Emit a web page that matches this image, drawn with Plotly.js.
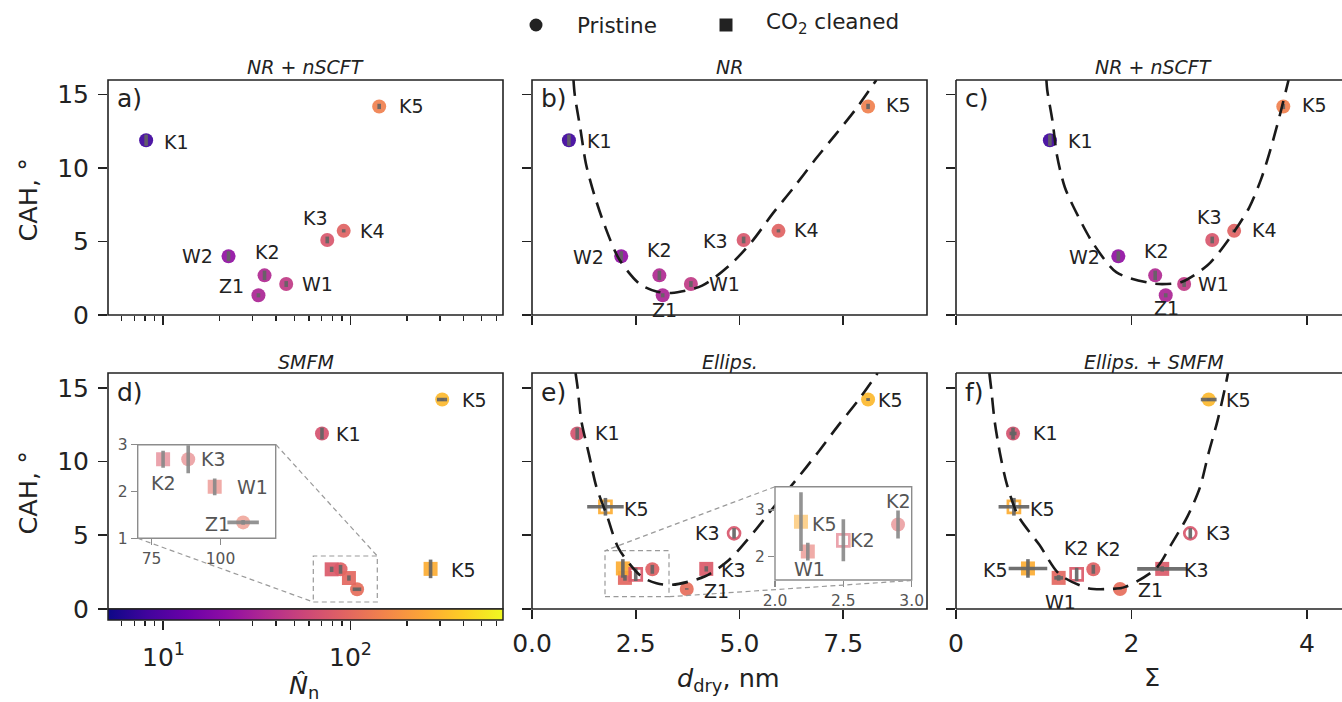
<!DOCTYPE html>
<html><head><meta charset="utf-8">
<script src="https://cdn.plot.ly/plotly-3.0.1.min.js"></script>
<style>html,body{margin:0;padding:0;background:#fff}</style>
</head><body><div id="chart" style="width:1342px;height:702px"></div>
<script>
// ================= DATA =================
// Top row: a) NR + nSCFT (N̂n), b) NR (d_dry), c) NR + nSCFT (Σ) – pristine samples
const topNames  = ['K1','W2','K2','Z1','W1','K3','K4','K5'];
const topNn     = [8.1, 22.3, 34.7, 32.2, 45.3, 75.0, 91.8, 142];
const topDdry   = [0.89, 2.15, 3.07, 3.15, 3.83, 5.10, 5.94, 8.10];
const topSigma  = [1.07, 1.85, 2.27, 2.39, 2.60, 2.92, 3.17, 3.73];
const topCAH    = [11.9, 4.0, 2.7, 1.34, 2.11, 5.11, 5.73, 14.2];
const topCAHErr = [0.38, 0.34, 0.32, 0.14, 0.2, 0.23, 0.11, 0.18];

// Dashed guide curves
const curveB_d    = [1.0, 1.03, 1.17, 1.3, 1.5, 1.75, 2.1, 2.6, 3.0, 3.36, 4.1, 4.77, 5.3, 5.8, 6.3, 6.83, 7.32, 7.8, 8.3];
const curveB_cah  = [16.0, 15.0, 12.6, 10.3, 8.2, 6.1, 3.8, 2.1, 1.6, 1.5, 2.0, 3.4, 5.0, 6.9, 8.65, 10.6, 12.3, 14.0, 16.0];
const curveC_s    = [1.03, 1.04, 1.1, 1.15, 1.24, 1.39, 1.56, 1.83, 2.19, 2.35, 2.57, 2.87, 3.12, 3.34, 3.48, 3.59, 3.69, 3.79];
const curveC_cah  = [16.0, 15.3, 13.2, 10.9, 8.7, 6.75, 4.9, 2.9, 2.2, 2.1, 2.25, 3.4, 5.25, 7.3, 9.3, 11.4, 13.6, 16.0];
const curveE_d    = [1.05, 1.1, 1.19, 1.38, 1.55, 1.81, 2.09, 2.64, 3.0, 3.38, 4.16, 4.74, 5.34, 5.78, 6.35, 6.86, 7.37, 7.85, 8.33];
const curveE_cah  = [16.0, 15.0, 12.75, 10.4, 8.3, 6.3, 4.1, 2.2, 1.75, 1.64, 2.2, 3.3, 5.2, 6.75, 8.7, 10.5, 12.4, 14.1, 16.0];
const curveF_s    = [0.38, 0.4, 0.44, 0.5, 0.58, 0.71, 0.95, 1.18, 1.5, 1.72, 1.93, 2.28, 2.45, 2.64, 2.78, 2.88, 2.98, 3.07, 3.1];
const curveF_cah  = [16.0, 15.0, 12.75, 10.6, 8.45, 6.3, 4.35, 2.35, 1.42, 1.35, 1.5, 2.75, 4.35, 6.3, 8.25, 10.6, 12.75, 15.1, 16.0];

// d) SMFM – pristine (circles) and CO2 cleaned (squares)
const smfmPrisNames  = ['K1','K3','Z1','K5'];
const smfmPrisNn     = [70.3, 88.3, 108.2, 308];
const smfmPrisNnErr  = [0, 0, 5.7, 19];
const smfmPrisCAH    = [11.9, 2.69, 1.34, 14.2];
const smfmPrisCAHErr = [0.4, 0.3, 0.05, 0.1];
const smfmCleanNames  = ['K2','W1','K5'];
const smfmCleanNn     = [79.2, 97.9, 267];
const smfmCleanCAH    = [2.69, 2.1, 2.72];
const smfmCleanCAHErr = [0.18, 0.18, 0.63];

// e) Ellips. (d_dry) and f) Ellips. + SMFM (Σ)
const ellPrisNames    = ['K1','K2','Z1','K5'];
const ellPrisNn       = [70.3, 88.3, 108.2, 308];   // colour value (N̂n)
const ellPrisDdry     = [1.09, 2.9, 3.73, 8.10];
const ellPrisSigma    = [0.65, 1.565, 1.87, 2.88];
const ellPrisSigmaErr = [0.04, 0, 0, 0.09];
const ellPrisCAH      = [11.9, 2.69, 1.36, 14.2];
const ellPrisCAHErr   = [0.4, 0.3, 0.05, 0.1];

const ellCleanNames    = ['K3','W1','K5'];
const ellCleanNn       = [79.2, 97.9, 267];
const ellCleanDdry     = [4.2, 2.24, 2.19];
const ellCleanSigma    = [2.35, 1.17, 0.82];
const ellCleanSigmaErr = [0.285, 0.05, 0.22];
const ellCleanCAH      = [2.72, 2.11, 2.75];
const ellCleanCAHErr   = [0.18, 0.19, 0.63];

const ellPrisOpenNames  = ['K3'];
const ellPrisOpenNn     = [75];
const ellPrisOpenDdry   = [4.87];
const ellPrisOpenSigma  = [2.67];
const ellPrisOpenCAH    = [5.13];
const ellPrisOpenCAHErr = [0.35];

const ellCleanOpenNames    = ['K5','K2'];
const ellCleanOpenNn       = [267, 79.2];
const ellCleanOpenDdry     = [1.77, 2.5];
const ellCleanOpenDdryErr  = [0.44, 0];
const ellCleanOpenSigma    = [0.66, 1.375];
const ellCleanOpenSigmaErr = [0.175, 0];
const ellCleanOpenCAH      = [6.93, 2.35];
const ellCleanOpenCAHErr   = [0.6, 0.45];

// Tick values
const yTicks = [0, 5, 10, 15];
const logMajor = [10, 100];
const logMajorText = ['10<sup>1</sup>', '10<sup>2</sup>'];
const logMinorTicks = [5,6,7,8,9,20,30,40,50,60,70,80,90,200,300,400,500,600];
const ddryTicks = [0, 2.5, 5, 7.5];
const sigmaTicks = [0, 2, 4];

// ================= STYLE / GEOMETRY =================
const W = 1342, H = 702;
const PX = x => x / W, PY = y => 1 - y / H;
const L10 = Math.log10;
const FONT = 'DejaVu Sans, Liberation Sans, sans-serif';
const INK = '#222';
const LOGR = [0.705, 2.813];
const plasma = [[0,'#0d0887'],[0.1,'#41049d'],[0.2,'#6a00a8'],[0.3,'#8f0da4'],[0.4,'#b12a90'],
  [0.5,'#cc4778'],[0.6,'#e16462'],[0.7,'#f2844b'],[0.8,'#fca636'],[0.9,'#fcce25'],[1,'#f0f921']];
const ERRC = 'rgba(100,100,100,0.92)', ERRC_IN = 'rgba(135,135,135,0.9)';

const traces = [];
function markers(xa, ya, xs, ys, cN, symbol, op, cbar) {
  const open = symbol.indexOf('open') >= 0;
  const t = {type:'scatter', mode:'markers', x:xs, y:ys, xaxis:xa, yaxis:ya, hoverinfo:'skip',
    marker:{symbol, size: open ? 12 : 14, color:cN.map(L10), colorscale:plasma, cmin:LOGR[0], cmax:LOGR[1],
      opacity:op, showscale:!!cbar, line:{width: open ? 2.7 : 0}}};
  if (cbar) t.marker.colorbar = cbar;
  traces.push(t);
}
function errs(xa, ya, xs, ys, xe, ye, col) {
  const t = {type:'scatter', mode:'markers', x:xs, y:ys, xaxis:xa, yaxis:ya, hoverinfo:'skip',
    marker:{size:1, color:'rgba(0,0,0,0)'}};
  if (ye) t.error_y = {type:'data', array:ye, visible:true, color:col, thickness:3.6, width:0};
  if (xe) t.error_x = {type:'data', array:xe, visible:true, color:col, thickness:3.6, width:0};
  traces.push(t);
}
function curve(xa, ya, xs, ys) {
  traces.push({type:'scatter', mode:'lines', x:xs, y:ys, xaxis:xa, yaxis:ya, hoverinfo:'skip',
    line:{color:'#1a1a1a', width:2.6, dash:'16px,9px', shape:'spline', smoothing:0.8}});
}

// a)
markers('x','y', topNn, topCAH, topNn, 'circle', 0.92);
errs('x','y', topNn, topCAH, null, topCAHErr, ERRC);
// b)
markers('x2','y2', topDdry, topCAH, topNn, 'circle', 0.92);
errs('x2','y2', topDdry, topCAH, null, topCAHErr, ERRC);
curve('x2','y2', curveB_d, curveB_cah);
// c)
markers('x3','y3', topSigma, topCAH, topNn, 'circle', 0.92);
errs('x3','y3', topSigma, topCAH, null, topCAHErr, ERRC);
curve('x3','y3', curveC_s, curveC_cah);
// d)
const cbar = {orientation:'h', x:PX(108), xanchor:'left', y:PY(609), yanchor:'top', len:395, lenmode:'pixels',
  thickness:11, thicknessmode:'pixels', outlinewidth:1.5, outlinecolor:INK, xpad:0, ypad:0,
  showticklabels:false, ticks:'', borderwidth:0};
markers('x4','y4', smfmPrisNn, smfmPrisCAH, smfmPrisNn, 'circle', 0.92, cbar);
markers('x4','y4', smfmCleanNn, smfmCleanCAH, smfmCleanNn, 'square', 0.92);
errs('x4','y4', smfmPrisNn, smfmPrisCAH, smfmPrisNnErr, smfmPrisCAHErr, ERRC);
errs('x4','y4', smfmCleanNn, smfmCleanCAH, null, smfmCleanCAHErr, ERRC);
// e)
markers('x5','y5', ellPrisDdry, ellPrisCAH, ellPrisNn, 'circle', 0.92);
markers('x5','y5', ellCleanDdry, ellCleanCAH, ellCleanNn, 'square', 0.92);
markers('x5','y5', ellPrisOpenDdry, ellPrisOpenCAH, ellPrisOpenNn, 'circle-open', 0.92);
markers('x5','y5', ellCleanOpenDdry, ellCleanOpenCAH, ellCleanOpenNn, 'square-open', 0.92);
errs('x5','y5', ellPrisDdry, ellPrisCAH, null, ellPrisCAHErr, ERRC);
errs('x5','y5', ellCleanDdry, ellCleanCAH, null, ellCleanCAHErr, ERRC);
errs('x5','y5', ellPrisOpenDdry, ellPrisOpenCAH, null, ellPrisOpenCAHErr, ERRC);
errs('x5','y5', ellCleanOpenDdry, ellCleanOpenCAH, ellCleanOpenDdryErr, ellCleanOpenCAHErr, ERRC);
curve('x5','y5', curveE_d, curveE_cah);
// f)
markers('x6','y6', ellPrisSigma, ellPrisCAH, ellPrisNn, 'circle', 0.92);
markers('x6','y6', ellCleanSigma, ellCleanCAH, ellCleanNn, 'square', 0.92);
markers('x6','y6', ellPrisOpenSigma, ellPrisOpenCAH, ellPrisOpenNn, 'circle-open', 0.92);
markers('x6','y6', ellCleanOpenSigma, ellCleanOpenCAH, ellCleanOpenNn, 'square-open', 0.92);
errs('x6','y6', ellPrisSigma, ellPrisCAH, ellPrisSigmaErr, ellPrisCAHErr, ERRC);
errs('x6','y6', ellCleanSigma, ellCleanCAH, ellCleanSigmaErr, ellCleanCAHErr, ERRC);
errs('x6','y6', ellPrisOpenSigma, ellPrisOpenCAH, null, ellPrisOpenCAHErr, ERRC);
errs('x6','y6', ellCleanOpenSigma, ellCleanOpenCAH, ellCleanOpenSigmaErr, ellCleanOpenCAHErr, ERRC);
curve('x6','y6', curveF_s, curveF_cah);
// inset of d) (linear N̂n)
markers('x7','y7', smfmPrisNn, smfmPrisCAH, smfmPrisNn, 'circle', 0.55);
markers('x7','y7', smfmCleanNn, smfmCleanCAH, smfmCleanNn, 'square', 0.55);
errs('x7','y7', smfmPrisNn, smfmPrisCAH, smfmPrisNnErr, smfmPrisCAHErr, ERRC_IN);
errs('x7','y7', smfmCleanNn, smfmCleanCAH, null, smfmCleanCAHErr, ERRC_IN);
// inset of e)
markers('x8','y8', ellPrisDdry, ellPrisCAH, ellPrisNn, 'circle', 0.55);
markers('x8','y8', ellCleanDdry, ellCleanCAH, ellCleanNn, 'square', 0.55);
markers('x8','y8', ellCleanOpenDdry, ellCleanOpenCAH, ellCleanOpenNn, 'square-open', 0.55);
errs('x8','y8', ellPrisDdry, ellPrisCAH, null, ellPrisCAHErr, ERRC_IN);
errs('x8','y8', ellCleanDdry, ellCleanCAH, null, ellCleanCAHErr, ERRC_IN);
errs('x8','y8', ellCleanOpenDdry, ellCleanOpenCAH, null, ellCleanOpenCAHErr, ERRC_IN);

// ================= AXES =================
function axis(o) {
  return Object.assign({showgrid:false, zeroline:false, showline:false, ticks:'outside', ticklen:9,
    tickwidth:1.6, tickcolor:INK, tickfont:{family:FONT, size:25, color:INK}, fixedrange:true}, o);
}
function inAxis(o) {
  return axis(Object.assign({ticklen:6, tickwidth:1.2, tickcolor:'#8a8a8a',
    tickfont:{family:FONT, size:15.5, color:'#555'}}, o));
}
const colA=[108,503], colB=[532,927], colC=[956,1342];
const rowT=[80,315], rowB=[373,609];
const dx = c => [PX(c[0]), PX(c[1])];
const dy = r => [PY(r[1]), PY(r[0])];
const minorLog = () => ({ticks:'outside', ticklen:5, tickwidth:1.3, tickcolor:INK, tickmode:'array', tickvals:logMinorTicks});
const DR = [0, 9.52], SR = [0, 4.399], YR = [0, 16];

const layout = {
  width:W, height:H, margin:{l:0, r:0, t:0, b:0}, paper_bgcolor:'#fff', plot_bgcolor:'#fff',
  showlegend:false, font:{family:FONT, color:INK},
  xaxis:  axis({domain:dx(colA), type:'log', range:LOGR, anchor:'y', tickmode:'array', tickvals:logMajor, showticklabels:false, minor:minorLog()}),
  yaxis:  axis({domain:dy(rowT), range:YR, anchor:'x', tickmode:'array', tickvals:yTicks, ticklabelstandoff:4}),
  xaxis2: axis({domain:dx(colB), range:DR, anchor:'y2', tickmode:'array', tickvals:ddryTicks, showticklabels:false}),
  yaxis2: axis({domain:dy(rowT), range:YR, anchor:'x2', tickmode:'array', tickvals:yTicks, showticklabels:false}),
  xaxis3: axis({domain:dx(colC), range:SR, anchor:'y3', tickmode:'array', tickvals:sigmaTicks, showticklabels:false}),
  yaxis3: axis({domain:dy(rowT), range:YR, anchor:'x3', tickmode:'array', tickvals:yTicks, showticklabels:false}),
  xaxis4: axis({domain:dx(colA), type:'log', range:LOGR, anchor:'free', position:PY(620), tickmode:'array', tickvals:logMajor, ticktext:logMajorText, showticklabels:false, minor:minorLog()}),
  yaxis4: axis({domain:dy(rowB), range:YR, anchor:'x4', tickmode:'array', tickvals:yTicks, ticklabelstandoff:4}),
  xaxis5: axis({domain:dx(colB), range:DR, anchor:'y5', tickmode:'array', tickvals:ddryTicks, tickformat:'.1f', ticklabelstandoff:3}),
  yaxis5: axis({domain:dy(rowB), range:YR, anchor:'x5', tickmode:'array', tickvals:yTicks, showticklabels:false}),
  xaxis6: axis({domain:dx(colC), range:SR, anchor:'y6', tickmode:'array', tickvals:sigmaTicks, ticklabelstandoff:3}),
  yaxis6: axis({domain:dy(rowB), range:YR, anchor:'x6', tickmode:'array', tickvals:yTicks, showticklabels:false}),
  xaxis7: inAxis({domain:[PX(137.7), PX(275.7)], range:[70,120], anchor:'y7', tickmode:'array', tickvals:[75,100]}),
  yaxis7: inAxis({domain:[PY(538.3), PY(444.7)], range:[1,3], anchor:'x7', tickmode:'array', tickvals:[1,2,3]}),
  xaxis8: inAxis({domain:[PX(775), PX(911.7)], range:[2,3], anchor:'y8', tickmode:'array', tickvals:[2,2.5,3], tickformat:'.1f'}),
  yaxis8: inAxis({domain:[PY(580), PY(486.7)], range:[1.5,3.5], anchor:'x8', tickmode:'array', tickvals:[2,3]})
};

// ================= SHAPES =================
const shapes = [];
function seg(x0,y0,x1,y1,color,width,dash) {
  shapes.push({type:'line', xref:'paper', yref:'paper', x0:PX(x0), y0:PY(y0), x1:PX(x1), y1:PY(y1),
    line:{color, width, dash:dash||'solid'}, layer:'above'});
}
function box(x0,y0,x1,y1,color,width,dash) {
  shapes.push({type:'rect', xref:'paper', yref:'paper', x0:PX(x0), y0:PY(y1), x1:PX(x1), y1:PY(y0),
    line:{color, width, dash:dash||'solid'}, fillcolor:'rgba(0,0,0,0)', layer:'above'});
}
box(108,80,503,315,INK,1.6); box(532,80,927,315,INK,1.6);
seg(956,80,1342,80,INK,1.6); seg(956,80,956,315,INK,1.6); seg(956,315,1342,315,INK,1.6);
box(108,373,503,609,INK,1.6); box(532,373,927,609,INK,1.6);
seg(956,373,1342,373,INK,1.6); seg(956,373,956,609,INK,1.6); seg(956,609,1342,609,INK,1.6);
// insets
box(137.7,444.7,275.7,538.3,'#8c8c8c',1.4);
box(775,486.7,911.7,580,'#8c8c8c',1.4);
// zoom boxes and connectors
const DG = '#9a9a9a', DSH = '5px,3.5px';
box(313.3,556,377.3,602,DG,1.2,DSH);
seg(276,444.7,377.3,556,DG,1.2,DSH); seg(137.7,538.3,313.3,602,DG,1.2,DSH);
box(605,550.7,669,596.7,DG,1.2,DSH);
seg(775,486.7,605,550.7,DG,1.2,DSH); seg(911.7,580.5,669,596.7,DG,1.2,DSH);
// legend symbols
shapes.push({type:'circle', xref:'paper', yref:'paper', x0:PX(529.5), x1:PX(542.5), y0:PY(31.5), y1:PY(18.5), fillcolor:INK, line:{width:0}});
shapes.push({type:'rect', xref:'paper', yref:'paper', x0:PX(719.5), x1:PX(732.5), y0:PY(31.5), y1:PY(18.5), fillcolor:INK, line:{width:0}});
layout.shapes = shapes;

// ================= ANNOTATIONS =================
const ann = [];
function lab(xref, yref, x, y, text, spec, color) {
  ann.push({xref, yref, x, y, text, showarrow:false, xanchor:spec[0], yanchor:'middle',
    xshift:spec[1], yshift:-spec[2], borderpad:0, borderwidth:0,
    font:{family:FONT, size:19, color:color || INK}});
}
function txt(px, py, text, size, extra) {
  ann.push(Object.assign({xref:'paper', yref:'paper', x:PX(px), y:PY(py), text, showarrow:false,
    xanchor:'center', yanchor:'middle', borderpad:0, borderwidth:0,
    font:{family:FONT, size, color:INK}}, extra || {}));
}
// label offsets: [anchor, dx(px), dy(px, down)]
const offA = [['left',18,2],['right',-16,0],['center',3,-23],['right',-14,-9],['left',16,0],['center',-11.5,-22],['left',16,0],['left',20,0]];
const offB = [['left',18,1],['right',-17,1],['center',0,-25],['center',2,15],['left',18,0],['right',-16,1],['left',16,-1],['left',18,-1]];
const offC = [['left',18,1],['right',-18,1],['center',1,-24],['center',1,13],['left',14,0],['center',-3,-23],['left',18,-1],['left',19,-1]];
topNames.forEach((n,i) => {
  lab('x','y', L10(topNn[i]), topCAH[i], n, offA[i]);
  lab('x2','y2', topDdry[i], topCAH[i], n, offB[i]);
  lab('x3','y3', topSigma[i], topCAH[i], n, offC[i]);
});
// d) tick labels of the log axis, placed below the colour bar
logMajor.forEach((v,i) => ann.push({xref:'x4', yref:'paper', x:L10(v), y:PY(655), text:logMajorText[i],
  showarrow:false, xanchor:'center', yanchor:'middle', borderpad:0, borderwidth:0,
  font:{family:FONT, size:25, color:INK}}));
// d)
lab('x4','y4', L10(smfmPrisNn[0]), smfmPrisCAH[0], smfmPrisNames[0], ['left',14,1]);
lab('x4','y4', L10(smfmPrisNn[3]), smfmPrisCAH[3], smfmPrisNames[3], ['left',20,0]);
lab('x4','y4', L10(smfmCleanNn[2]), smfmCleanCAH[2], smfmCleanNames[2], ['left',20,1]);
// inset d
const GL = '#555';
lab('x7','y7', smfmPrisNn[1], smfmPrisCAH[1], smfmPrisNames[1], ['left',13,0], GL);
lab('x7','y7', smfmPrisNn[2], smfmPrisCAH[2], smfmPrisNames[2], ['right',-13,2], GL);
lab('x7','y7', smfmCleanNn[0], smfmCleanCAH[0], smfmCleanNames[0], ['center',0,24], GL);
lab('x7','y7', smfmCleanNn[1], smfmCleanCAH[1], smfmCleanNames[1], ['left',22,0], GL);
// e)
lab('x5','y5', ellPrisDdry[0], ellPrisCAH[0], ellPrisNames[0], ['left',18,0]);
lab('x5','y5', ellPrisDdry[2], ellPrisCAH[2], ellPrisNames[2], ['left',17,2]);
lab('x5','y5', ellPrisDdry[3], ellPrisCAH[3], ellPrisNames[3], ['left',10,0]);
lab('x5','y5', ellCleanDdry[0], ellCleanCAH[0], ellCleanNames[0], ['left',15,1]);
lab('x5','y5', ellPrisOpenDdry[0], ellPrisOpenCAH[0], ellPrisOpenNames[0], ['right',-14,0]);
lab('x5','y5', ellCleanOpenDdry[0], ellCleanOpenCAH[0], ellCleanOpenNames[0], ['left',19,2]);
// inset e
lab('x8','y8', ellCleanDdry[2], ellCleanCAH[2], ellCleanNames[2], ['left',11,2], GL);
lab('x8','y8', ellCleanDdry[1], ellCleanCAH[1], ellCleanNames[1], ['center',2,17], GL);
lab('x8','y8', ellCleanOpenDdry[1], ellCleanOpenCAH[1], ellCleanOpenNames[1], ['left',7,0], GL);
lab('x8','y8', ellPrisDdry[1], ellPrisCAH[1], ellPrisNames[1], ['center',0,-23], GL);
// f)
lab('x6','y6', ellPrisSigma[0], ellPrisCAH[0], ellPrisNames[0], ['left',20,0]);
lab('x6','y6', ellPrisSigma[1], ellPrisCAH[1], ellPrisNames[1], ['center',15,-20]);
lab('x6','y6', ellPrisSigma[2], ellPrisCAH[2], ellPrisNames[2], ['left',18,1]);
lab('x6','y6', ellPrisSigma[3], ellPrisCAH[3], ellPrisNames[3], ['left',17,0]);
lab('x6','y6', ellCleanSigma[0], ellCleanCAH[0], ellCleanNames[0], ['left',22,1]);
lab('x6','y6', ellCleanSigma[1], ellCleanCAH[1], ellCleanNames[1], ['center',2,24]);
lab('x6','y6', ellCleanSigma[2], ellCleanCAH[2], ellCleanNames[2], ['right',-20,2]);
lab('x6','y6', ellPrisOpenSigma[0], ellPrisOpenCAH[0], ellPrisOpenNames[0], ['left',16,0]);
lab('x6','y6', ellCleanOpenSigma[0], ellCleanOpenCAH[0], ellCleanOpenNames[0], ['left',16,2]);
lab('x6','y6', ellCleanOpenSigma[1], ellCleanOpenCAH[1], ellCleanOpenNames[1], ['center',0,-26]);

// subplot titles
txt(305.5,67,'<i>NR + nSCFT</i>',19); txt(729.5,67,'<i>NR</i>',19); txt(1153.5,67,'<i>NR + nSCFT</i>',19);
txt(305.5,362,'<i>SMFM</i>',19); txt(729.5,362,'<i>Ellips.</i>',19); txt(1153.5,362,'<i>Ellips. + SMFM</i>',19);
// panel letters
[['a)',116.5,99],['b)',540.5,99],['c)',965,99],['d)',116.5,392],['e)',540.5,392],['f)',965,392]].forEach(p =>
  txt(p[1], p[2], p[0], 25, {xanchor:'left'}));
// axis titles
txt(27.5,200,'CAH, °',25.5,{textangle:-90});
txt(27.5,493,'CAH, °',25.5,{textangle:-90});
txt(304,686,'<i>N̂</i><sub>n</sub>',25.5);
txt(729,679,'<i>d</i><sub>dry</sub>, nm',25.5);
txt(1152,677,'Σ',25.5);
// legend texts
txt(577,25,'Pristine',21.5,{xanchor:'left'});
txt(766,24,'CO<sub>2</sub> cleaned',21.5,{xanchor:'left'});
layout.annotations = ann;

Plotly.newPlot('chart', traces, layout, {staticPlot:true, displayModeBar:false});
</script>
</body></html>
